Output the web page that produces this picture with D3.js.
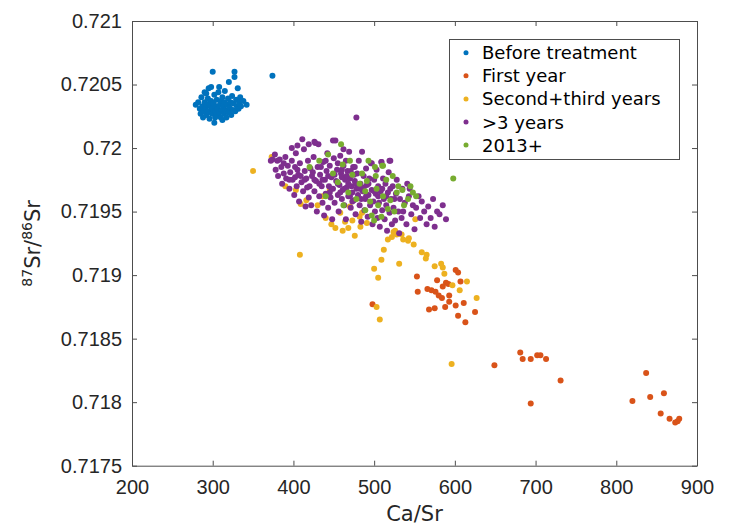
<!DOCTYPE html>
<html>
<head>
<meta charset="utf-8">
<script src="https://cdn.jsdelivr.net/npm/d3@7"></script>
<style>
  body { margin: 0; background: #fff; }
  svg { display: block; font-family: "DejaVu Sans", sans-serif; }
</style>
</head>
<body>
<svg id="chart" width="735" height="529"></svg>
<script>
// Ca/Sr vs 87Sr/86Sr, one array per group: [Ca/Sr, 87Sr/86Sr]
const beforeTreatment = [
  [279, 0.72034], [282, 0.72036], [284, 0.72031], [285, 0.72027], [286, 0.72040], [287, 0.72033],
  [288, 0.72024], [289, 0.72029], [290, 0.72036], [290, 0.72044], [291, 0.72031], [292, 0.72026],
  [292, 0.72043], [293, 0.72034], [294, 0.72039], [295, 0.72029], [295, 0.72047], [296, 0.72023],
  [296, 0.72035], [297, 0.72033], [298, 0.72037], [298, 0.72048], [299, 0.72027], [300, 0.72031],
  [300, 0.72060], [301, 0.72035], [302, 0.72042], [302, 0.72020], [303, 0.72029], [303, 0.72024],
  [304, 0.72033], [305, 0.72026], [305, 0.72038], [306, 0.72031], [307, 0.72044], [308, 0.72028],
  [308, 0.72048], [309, 0.72034], [310, 0.72024], [310, 0.72037], [311, 0.72030], [312, 0.72040],
  [312, 0.72022], [313, 0.72033], [314, 0.72027], [315, 0.72036], [315, 0.72045], [316, 0.72030],
  [317, 0.72024], [318, 0.72034], [318, 0.72029], [319, 0.72039], [320, 0.72028], [320, 0.72052],
  [321, 0.72032], [322, 0.72036], [323, 0.72026], [324, 0.72041], [325, 0.72030], [326, 0.72035],
  [327, 0.72060], [327, 0.72056], [328, 0.72029], [329, 0.72038], [330, 0.72033], [331, 0.72047],
  [332, 0.72031], [333, 0.72036], [334, 0.72040], [335, 0.72033], [338, 0.72037], [342, 0.72034],
  [374, 0.72057]
];

const firstYear = [
  [498, 0.71877], [553, 0.71899], [554, 0.71887], [566, 0.71889], [568, 0.71873], [575, 0.71874],
  [571, 0.71888], [576, 0.71887], [578, 0.71896], [580, 0.71884], [584, 0.71882], [585, 0.71891],
  [589, 0.71894], [592, 0.71893], [588, 0.71875], [593, 0.71884], [593, 0.71879], [601, 0.71904],
  [604, 0.71902], [607, 0.71895], [611, 0.71878], [601, 0.71876], [604, 0.71868], [613, 0.71863],
  [625, 0.71871], [649, 0.71829], [681, 0.71839], [684, 0.71834], [694, 0.71834], [702, 0.71837],
  [706, 0.71837], [713, 0.71834], [694, 0.71799], [731, 0.71817], [820, 0.71801], [837, 0.71823],
  [842, 0.71804], [859, 0.71807], [855, 0.71791], [866, 0.71787], [873, 0.71784], [876, 0.71785],
  [878, 0.71787]
];

const secondThirdYears = [
  [350, 0.71982], [373, 0.71993], [390, 0.71970], [403, 0.71967], [409, 0.71956], [416, 0.71959],
  [408, 0.71916], [430, 0.71955], [436, 0.71962], [445, 0.71967], [440, 0.71945], [447, 0.71940],
  [452, 0.71937], [458, 0.71949], [461, 0.71935], [464, 0.71942], [468, 0.71937], [470, 0.71954],
  [473, 0.71943], [476, 0.71931], [482, 0.71946], [483, 0.71938], [485, 0.71949], [491, 0.71941],
  [500, 0.71905], [505, 0.71898], [509, 0.71912], [512, 0.71920], [517, 0.71928], [522, 0.71930],
  [524, 0.71934], [526, 0.71935], [528, 0.71932], [531, 0.71909], [534, 0.71932], [536, 0.71928],
  [542, 0.71927], [543, 0.71929], [549, 0.71924], [551, 0.71944], [559, 0.71918], [564, 0.71913],
  [565, 0.71916], [575, 0.71907], [583, 0.71909], [585, 0.71906], [587, 0.71901], [597, 0.71892],
  [606, 0.71888], [615, 0.71895], [627, 0.71882], [596, 0.71830], [507, 0.71865], [503, 0.71875]
];

const overThreeYears = [
  [372, 0.71990], [374, 0.71991], [377, 0.71995], [378, 0.71983], [381, 0.71978], [383, 0.71991],
  [385, 0.71985], [386, 0.71972], [388, 0.71980], [390, 0.71993], [391, 0.71976], [393, 0.71986],
  [395, 0.71968], [396, 0.71981], [398, 0.71990], [399, 0.71975], [401, 0.71963], [402, 0.71985],
  [403, 0.71996], [404, 0.71970], [406, 0.71979], [407, 0.71958], [408, 0.71988], [410, 0.71973],
  [411, 0.72007], [412, 0.71966], [413, 0.71999], [414, 0.71982], [415, 0.71954], [416, 0.71976],
  [418, 0.71990], [419, 0.71961], [420, 0.71970], [421, 0.71984], [422, 0.71955], [423, 0.71978],
  [425, 0.71993], [426, 0.71966], [427, 0.72004], [428, 0.71974], [429, 0.71950], [430, 0.71985],
  [431, 0.72003], [432, 0.71962], [433, 0.71979], [435, 0.71970], [436, 0.71957], [437, 0.71989],
  [438, 0.71947], [439, 0.71975], [440, 0.71964], [441, 0.71982], [442, 0.71996], [443, 0.71953],
  [444, 0.71970], [445, 0.71986], [446, 0.71961], [447, 0.71977], [448, 0.71944], [449, 0.71968],
  [450, 0.71992], [451, 0.71957], [452, 0.72006], [453, 0.71974], [454, 0.71983], [455, 0.71963],
  [456, 0.71950], [457, 0.71971], [458, 0.71994], [459, 0.71980], [460, 0.71960], [461, 0.71967],
  [462, 0.71986], [463, 0.71955], [464, 0.71975], [465, 0.71944], [466, 0.71969], [467, 0.71982],
  [468, 0.71962], [469, 0.71997], [470, 0.71976], [471, 0.71953], [472, 0.71970], [473, 0.71965],
  [474, 0.71985], [475, 0.71959], [476, 0.71974], [477, 0.71948], [478, 0.72024], [478, 0.71968],
  [479, 0.71980], [480, 0.71963], [481, 0.71990], [482, 0.71955], [483, 0.71972], [484, 0.71942],
  [485, 0.71997], [486, 0.71966], [487, 0.71978], [488, 0.71951], [489, 0.71960], [490, 0.71984],
  [491, 0.71971], [492, 0.71946], [493, 0.71963], [494, 0.71976], [495, 0.71955], [496, 0.71988],
  [497, 0.71967], [498, 0.71940], [499, 0.71958], [500, 0.71975], [501, 0.71950], [502, 0.71964],
  [503, 0.71983], [504, 0.71945], [505, 0.71970], [506, 0.71957], [507, 0.71938], [508, 0.71966],
  [509, 0.71989], [510, 0.71951], [511, 0.71976], [512, 0.71960], [513, 0.71944], [514, 0.71972],
  [515, 0.71955], [516, 0.71935], [517, 0.71965], [518, 0.71981], [519, 0.71949], [520, 0.71990],
  [521, 0.71960], [522, 0.71940], [523, 0.71970], [524, 0.71953], [526, 0.71943], [527, 0.71964],
  [528, 0.71975], [530, 0.71950], [531, 0.71933], [532, 0.71960], [534, 0.71945], [535, 0.71968],
  [536, 0.71950], [538, 0.71957], [540, 0.71940], [541, 0.71972], [543, 0.71962], [544, 0.71968],
  [546, 0.71948], [548, 0.71955], [550, 0.71936], [552, 0.71953], [555, 0.71962], [557, 0.71945],
  [559, 0.71958], [562, 0.71950], [565, 0.71940], [567, 0.71954], [570, 0.71945], [573, 0.71960],
  [575, 0.71938], [578, 0.71950], [581, 0.71948], [585, 0.71955], [589, 0.71944],
  [405, 0.71983], [409, 0.71978], [417, 0.71969], [424, 0.71981], [434, 0.71985], [436, 0.71975],
  [443, 0.71978], [447, 0.71968], [451, 0.71979], [455, 0.71972], [458, 0.71965], [460, 0.71977],
  [463, 0.71968], [466, 0.71978], [468, 0.71972], [471, 0.71982], [473, 0.71958], [475, 0.71979],
  [477, 0.71972], [480, 0.71970], [482, 0.71968], [484, 0.71960], [487, 0.71969], [490, 0.71962],
  [493, 0.71972], [460, 0.71983], [445, 0.71965], [432, 0.71972], [426, 0.71975], [414, 0.71975],
  [402, 0.71977], [395, 0.71975], [388, 0.71988], [380, 0.71990], [470, 0.71962], [476, 0.71985],
  [465, 0.71990], [455, 0.71988], [440, 0.71990], [500, 0.71966], [505, 0.71962], [510, 0.71968],
  [515, 0.71962], [520, 0.71968], [525, 0.71960], [398, 0.72000], [405, 0.72002], [419, 0.72003],
  [426, 0.72005], [449, 0.72006], [462, 0.71999], [497, 0.71988], [509, 0.71989], [519, 0.71990]
];

const since2013 = [
  [473, 0.71979], [482, 0.71972], [489, 0.71966], [491, 0.71974], [497, 0.71947], [501, 0.71985],
  [502, 0.71978], [503, 0.71968], [509, 0.71946], [511, 0.71986], [511, 0.71962], [520, 0.71959],
  [528, 0.71965], [535, 0.71967], [542, 0.71960], [598, 0.71976], [459, 0.72003], [443, 0.71995],
  [461, 0.71987], [510, 0.71986], [489, 0.71951], [495, 0.71958], [478, 0.71960], [468, 0.71965],
  [455, 0.71973], [449, 0.71980], [462, 0.71955], [485, 0.71980], [505, 0.71955], [515, 0.71975],
  [523, 0.71978], [530, 0.71970], [537, 0.71955], [548, 0.71965], [432, 0.71990], [420, 0.71985],
  [440, 0.71962], [470, 0.71990], [493, 0.71990], [500, 0.71943], [525, 0.71950], [545, 0.71970],
  [552, 0.71962], [517, 0.71952]
];

const seriesNames = ['Before treatment', 'First year', 'Second+third years', '>3 years', '2013+'];
const seriesData = [beforeTreatment, firstYear, secondThirdYears, overThreeYears, since2013];
const seriesColors = ['#0072BD', '#D95319', '#EDB120', '#7E2F8E', '#77AC30'];

const xTicks = [200, 300, 400, 500, 600, 700, 800, 900];
const yTicks = [0.7175, 0.718, 0.7185, 0.719, 0.7195, 0.72, 0.7205, 0.721];

const svg = d3.select('#chart');
const margin = { left: 132, right: 697, top: 21, bottom: 465.7 };

const x = d3.scaleLinear().domain([200, 900]).range([margin.left, margin.right]);
const y = d3.scaleLinear().domain([0.7175, 0.721]).range([margin.bottom, margin.top]);

const axisColor = '#4d4d4d';
const textColor = '#262626';

// points first, axes box drawn over them
seriesData.forEach((data, i) => {
  svg.append('g')
    .selectAll('circle')
    .data(data)
    .enter().append('circle')
    .attr('cx', d => x(d[0]))
    .attr('cy', d => y(d[1]))
    .attr('r', 3)
    .attr('fill', seriesColors[i]);
});

const styleAxis = (g) => {
  g.select('.domain').attr('stroke', axisColor).attr('stroke-width', 1);
  g.selectAll('.tick line').attr('stroke', axisColor);
  g.selectAll('.tick text').attr('fill', textColor).style('font-size', '20px');
};

svg.append('g')
  .attr('transform', `translate(0,${margin.bottom})`)
  .call(d3.axisBottom(x).tickValues(xTicks).tickSizeInner(-5).tickSizeOuter(0).tickPadding(14))
  .call(styleAxis);

svg.append('g')
  .attr('transform', `translate(0,${margin.top})`)
  .call(d3.axisTop(x).tickValues(xTicks).tickSizeInner(-5).tickSizeOuter(0).tickFormat(''))
  .call(styleAxis);

svg.append('g')
  .attr('transform', `translate(${margin.left},0)`)
  .call(d3.axisLeft(y).tickValues(yTicks).tickSizeInner(-5).tickSizeOuter(0).tickPadding(10)
    .tickFormat(d3.format('~g')))
  .call(styleAxis);

svg.append('g')
  .attr('transform', `translate(${margin.right},0)`)
  .call(d3.axisRight(y).tickValues(yTicks).tickSizeInner(-5).tickSizeOuter(0).tickFormat(''))
  .call(styleAxis);

svg.selectAll('.tick text').attr('font-family', null);

// axis labels
svg.append('text')
  .attr('x', (margin.left + margin.right) / 2)
  .attr('y', 521)
  .attr('text-anchor', 'middle')
  .attr('fill', textColor)
  .style('font-size', '21px')
  .text('Ca/Sr');

const yLabel = svg.append('text')
  .attr('transform', `translate(40,${(margin.top + margin.bottom) / 2}) rotate(-90)`)
  .attr('text-anchor', 'middle')
  .attr('fill', textColor)
  .style('font-size', '21px');
yLabel.append('tspan').attr('dy', -8).style('font-size', '14px').text('87');
yLabel.append('tspan').attr('dy', 8).text('Sr/');
yLabel.append('tspan').attr('dy', -8).style('font-size', '14px').text('86');
yLabel.append('tspan').attr('dy', 8).text('Sr');

// legend
const legend = svg.append('g');
legend.append('rect')
  .attr('x', 449.5).attr('y', 39.5)
  .attr('width', 230).attr('height', 120)
  .attr('fill', '#fff')
  .attr('stroke', axisColor)
  .attr('stroke-width', 1);

seriesNames.forEach((name, i) => {
  const cy = 52.7 + i * 23.1;
  legend.append('circle')
    .attr('cx', 466).attr('cy', cy).attr('r', 2.5)
    .attr('fill', seriesColors[i]);
  legend.append('text')
    .attr('x', 482).attr('y', cy + 6.5)
    .attr('fill', '#000')
    .style('font-size', '18px')
    .text(name);
});
</script>
</body>
</html>
